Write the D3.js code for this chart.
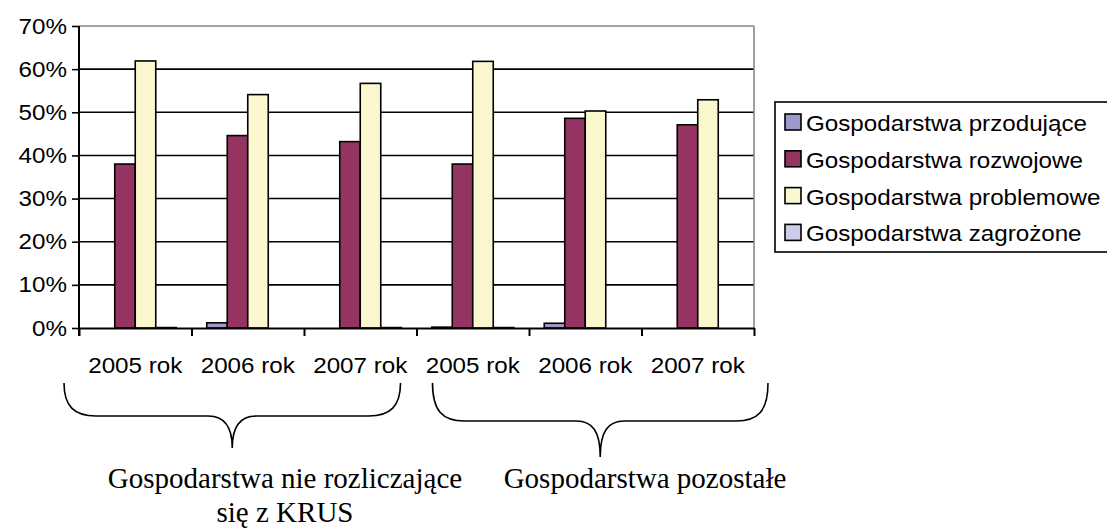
<!DOCTYPE html>
<html>
<head>
<meta charset="utf-8">
<script src="https://cdn.jsdelivr.net/npm/d3@7/dist/d3.min.js"></script>
<style>
  body { margin: 0; background: #fff; }
  svg { display: block; }
</style>
</head>
<body>
<div id="chart"></div>
<script>
// Data (percent).
const categories = ['2005 rok', '2006 rok', '2007 rok', '2005 rok', '2006 rok', '2007 rok'];
const seriesNames = [
  'Gospodarstwa przodujące',
  'Gospodarstwa rozwojowe',
  'Gospodarstwa problemowe',
  'Gospodarstwa zagrożone',
];
const przodujace = [0, 1.2, 0, 0.2, 1.1, 0];
const rozwojowe = [38.0, 44.6, 43.2, 38.0, 48.6, 47.1];
const problemowe = [61.9, 54.1, 56.7, 61.8, 50.3, 52.9];
const zagrozone = [0.1, 0, 0.1, 0.1, 0, 0];
const yTicks = [0, 10, 20, 30, 40, 50, 60, 70];
// Groups of categories with the text under the brace.
const groups = [
  { from: 0, to: 2, lines: ['Gospodarstwa nie rozliczające', 'się z KRUS'] },
  { from: 3, to: 5, lines: ['Gospodarstwa pozostałe'] },
];

const seriesValues = [przodujace, rozwojowe, problemowe, zagrozone];
const colors = ['#9a9acc', '#953462', '#fbf8d0', '#cdcdea'];

const W = 1107, H = 530;
const margin = { top: 26, right: 353, bottom: 202, left: 79 };
const plotW = W - margin.left - margin.right;
const plotH = H - margin.top - margin.bottom;
const SX = 1.1; // the original text is a bit wider than Arial

const svg = d3.select('#chart').append('svg')
  .attr('width', W).attr('height', H)
  .style('font-family', 'Arial, "Liberation Sans", sans-serif');

const x = d3.scaleBand().domain(d3.range(categories.length))
  .range([margin.left, margin.left + plotW]).padding(0);
const x1 = d3.scaleBand().domain(d3.range(seriesValues.length))
  .range([0, x.bandwidth()]).paddingInner(0).paddingOuter(0.744);
const y = d3.scaleLinear().domain([0, 70]).range([margin.top + plotH, margin.top]);

// Gridlines
svg.append('g').selectAll('line').data(yTicks.filter(d => d > 0))
  .enter().append('line')
  .attr('x1', margin.left).attr('x2', margin.left + plotW)
  .attr('y1', d => y(d)).attr('y2', d => y(d))
  .attr('stroke', d => d === 70 ? '#888' : '#000')
  .attr('stroke-width', 1.6);

// Right border of the plot area
svg.append('line')
  .attr('x1', margin.left + plotW).attr('x2', margin.left + plotW)
  .attr('y1', y(70)).attr('y2', y(0))
  .attr('stroke', '#888').attr('stroke-width', 1.6);

// Bars
const groupsG = svg.append('g').selectAll('g').data(categories)
  .enter().append('g')
  .attr('transform', (d, i) => `translate(${x(i)},0)`);

groupsG.selectAll('rect')
  .data((d, i) => seriesValues.map((s, k) => ({ k, v: s[i] })).filter(o => o.v > 0))
  .enter().append('rect')
  .attr('x', o => x1(o.k))
  .attr('width', x1.bandwidth())
  .attr('y', o => y(o.v))
  .attr('height', o => y(0) - y(o.v))
  .attr('fill', o => colors[o.k])
  .attr('stroke', '#000')
  .attr('stroke-width', 1.6);

// Y axis
const yAxis = d3.axisLeft(y).tickValues(yTicks).tickSize(7).tickFormat(d => d + '%');
const yAx = svg.append('g')
  .attr('transform', `translate(${margin.left},0)`)
  .call(yAxis);
yAx.select('.domain').remove();
yAx.selectAll('.tick line').attr('stroke', '#000').attr('stroke-width', 1.6);
yAx.selectAll('.tick text')
  .attr('x', -11).attr('dy', '0.32em')
  .attr('transform', `scale(${SX},1)`)
  .attr('font-size', 22).attr('font-family', 'Arial, "Liberation Sans", sans-serif')
  .attr('fill', '#000');
svg.append('line')
  .attr('x1', margin.left).attr('x2', margin.left)
  .attr('y1', y(70)).attr('y2', y(0) + 8)
  .attr('stroke', '#000').attr('stroke-width', 2);

// X axis: ticks between categories
const xb = d3.scaleLinear().domain([0, categories.length]).range(x.range());
const xAx = svg.append('g')
  .attr('transform', `translate(0,${y(0)})`)
  .call(d3.axisBottom(xb).ticks(categories.length).tickSize(8).tickSizeOuter(0).tickFormat(''));
xAx.select('.domain').attr('stroke', '#000').attr('stroke-width', 2);
xAx.selectAll('.tick line').attr('stroke', '#000').attr('stroke-width', 2);

svg.append('g').selectAll('text').data(categories)
  .enter().append('text')
  .attr('transform', (d, i) => `translate(${x(i) + x.bandwidth() / 2},${y(0) + 45}) scale(${SX},1)`)
  .attr('text-anchor', 'middle')
  .attr('font-size', 22)
  .text(d => d);

// Braces and group titles
function bracePath(x0, x1b, top, mid, tip) {
  const c = (x0 + x1b) / 2;
  return `M${x0},${top} C${x0},${mid - 10} ${x0 + 10},${mid} ${x0 + 32},${mid}` +
    ` L${c - 24},${mid} C${c - 8},${mid} ${c},${mid + 10} ${c},${tip}` +
    ` C${c},${mid + 10} ${c + 8},${mid} ${c + 24},${mid}` +
    ` L${x1b - 32},${mid} C${x1b - 10},${mid} ${x1b},${mid - 10} ${x1b},${top}`;
}
const braceDims = [
  { left: -15, right: -16, mid: 416, tip: 448 },
  { left: 16, right: 14, mid: 421, tip: 457 },
];
groups.forEach((g, gi) => {
  const bx0 = x(g.from) + braceDims[gi].left;
  const bx1 = x(g.to) + x.bandwidth() + braceDims[gi].right;
  svg.append('path')
    .attr('d', bracePath(bx0, bx1, 383, braceDims[gi].mid, braceDims[gi].tip))
    .attr('fill', 'none').attr('stroke', '#000').attr('stroke-width', 1.6);
});

const titleX = [285, 645];
groups.forEach((g, gi) => {
  svg.append('g').selectAll('text').data(g.lines)
    .enter().append('text')
    .attr('x', titleX[gi])
    .attr('y', (d, i) => 488 + i * 34)
    .attr('text-anchor', 'middle')
    .attr('font-family', '"Liberation Serif", "Times New Roman", serif')
    .attr('font-size', 29)
    .text(d => d);
});

// Legend
const legend = svg.append('g').attr('transform', 'translate(775,102)');
legend.append('rect')
  .attr('x', 0).attr('y', 0).attr('width', 360).attr('height', 150)
  .attr('fill', '#fff').attr('stroke', '#000').attr('stroke-width', 1.6);
const items = legend.selectAll('g.item').data(seriesNames)
  .enter().append('g').attr('class', 'item')
  .attr('transform', (d, i) => `translate(0,${i * 36.8})`);
items.append('rect')
  .attr('x', 10).attr('y', 12).attr('width', 16).attr('height', 16)
  .attr('fill', (d, i) => colors[i])
  .attr('stroke', '#000').attr('stroke-width', 1.6);
items.append('text')
  .attr('transform', `translate(31,29) scale(${SX},1)`)
  .attr('font-size', 22)
  .text(d => d);
</script>
</body>
</html>
